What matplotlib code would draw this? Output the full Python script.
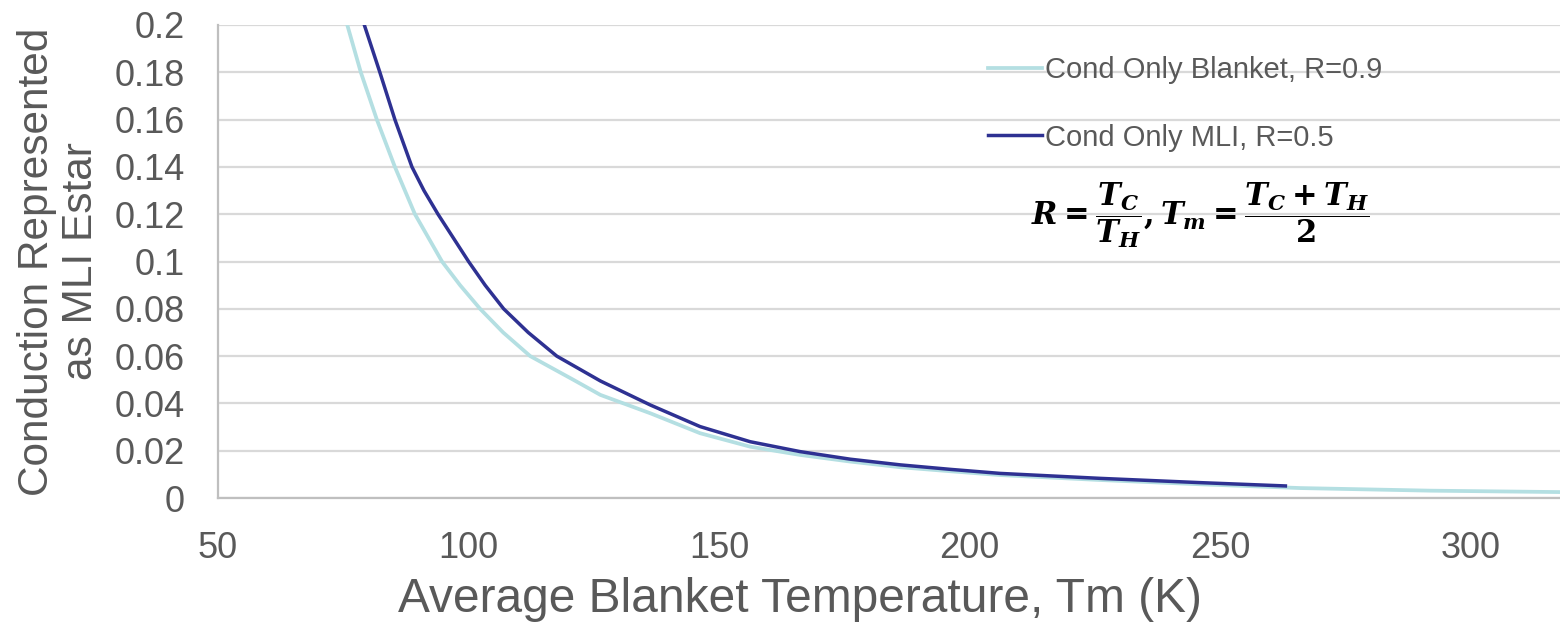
import matplotlib
matplotlib.use("Agg")
import matplotlib.pyplot as plt

plt.rcParams['font.family'] = ['Liberation Sans', 'DejaVu Sans']
plt.rcParams['mathtext.fontset'] = 'custom'
plt.rcParams['mathtext.rm'] = 'DejaVu Serif:bold'
plt.rcParams['mathtext.it'] = 'DejaVu Serif:italic:bold'
plt.rcParams['mathtext.bf'] = 'DejaVu Serif:bold'

# values
tm_blanket = [75.8, 78.5, 81.7, 85.3, 87.3, 89.3, 94.7, 98.3, 102.3, 106.9,
              112.3, 120.9, 126.3, 136.3, 146.2, 156.2, 166.2, 176.2, 186.2,
              196.2, 206.1, 226.1, 246, 266, 292, 318]
e_blanket = [0.2, 0.18, 0.16, 0.14, 0.13, 0.12, 0.10, 0.09, 0.08, 0.07,
             0.06, 0.05, 0.0436, 0.0358, 0.0274, 0.0217, 0.0182, 0.0154, 0.0130,
             0.0113, 0.0097, 0.0076, 0.0058, 0.0042, 0.0031, 0.0025]

tm_mli = [79.2, 82.3, 85.3, 88.7, 91.1, 93.9, 100.0, 103.3, 107.0, 111.9,
          117.6, 126.3, 136.3, 146.2, 156.2, 166.2, 176.2, 186.2, 196.2,
          206.1, 226.1, 246, 263]
e_mli = [0.2, 0.18, 0.16, 0.14, 0.13, 0.12, 0.10, 0.09, 0.08, 0.07,
         0.06, 0.0495, 0.0393, 0.0302, 0.0238, 0.0196, 0.0164, 0.0140, 0.0121,
         0.0104, 0.0083, 0.0065, 0.0051]

labels = ["Cond Only Blanket, R=0.9", "Cond Only MLI, R=0.5"]
colors = ["#B4DFE2", "#2E3192"]

fig = plt.figure(figsize=(15.6, 6.24), dpi=100)
ax = fig.add_axes([218 / 1560, 1 - 498 / 624, 1 - 218 / 1560, 473 / 624])

ax.plot(tm_blanket, e_blanket, color=colors[0], lw=2.7, label=labels[0])
ax.plot(tm_mli, e_mli, color=colors[1], lw=2.5, label=labels[1])

ax.set_xlim(50, 317.8)
ax.set_ylim(0, 0.2)
ax.set_xticks([50, 100, 150, 200, 250, 300])
ax.set_yticks([0, 0.02, 0.04, 0.06, 0.08, 0.1, 0.12, 0.14, 0.16, 0.18, 0.2])
ax.set_yticklabels(['0', '0.02', '0.04', '0.06', '0.08', '0.1', '0.12',
                    '0.14', '0.16', '0.18', '0.2'])
ax.tick_params(axis='both', length=0, labelsize=26, labelcolor='#595959')
ax.tick_params(axis='y', pad=24)
ax.tick_params(axis='x', pad=24)

ax.grid(axis='y', color='#D9D9D9', lw=1.6)
ax.set_axisbelow(True)
for s in ['top', 'right']:
    ax.spines[s].set_visible(False)
for s in ['left', 'bottom']:
    ax.spines[s].set_color('#BFBFBF')
    ax.spines[s].set_linewidth(1.6)

ax.set_xlabel("Average Blanket Temperature, Tm (K)", fontsize=34.5, color='#595959')
ax.xaxis.set_label_coords(0.4337, -0.166)
ax.set_ylabel("Conduction Represented\nas MLI Estar", fontsize=30.5,
              color='#595959', linespacing=1.15)
ax.yaxis.set_label_coords(-0.087, 0.5)

leg = ax.legend(loc='upper left', bbox_to_anchor=(0.574, 0.934), frameon=False,
                fontsize=21, handlelength=1.85, handletextpad=0.1,
                labelspacing=1.35, borderpad=0, borderaxespad=0)
for t in leg.get_texts():
    t.set_color('#595959')

ax.text(0.732, 0.1197 / 0.2, r'$R=\dfrac{T_C}{T_H},T_m=\dfrac{T_C+T_H}{2}$',
        transform=ax.transAxes, fontsize=22, ha='center', va='center',
        color='black')

fig.savefig("out.png", dpi=100)
